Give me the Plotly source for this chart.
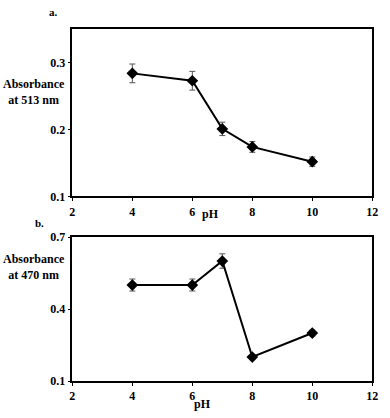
import plotly.graph_objects as go

ph = [4, 6, 7, 8, 10]
abs_513 = [0.284, 0.273, 0.201, 0.174, 0.152]
err_513 = [0.014, 0.014, 0.010, 0.008, 0.007]
abs_470 = [0.50, 0.50, 0.60, 0.20, 0.30]
err_470 = [0.025, 0.025, 0.030, 0.006, 0.012]
x_ticks = [2, 4, 6, 8, 10, 12]
y_ticks_a = [0.1, 0.2, 0.3]
y_ticks_b = [0.1, 0.4, 0.7]

W, H = 390, 418
FONT = "Liberation Serif, Times New Roman, serif"

fig = go.Figure()

def add_series(x, y, e, xa, ya):
    fig.add_trace(go.Scatter(
        x=x, y=y, xaxis=xa, yaxis=ya, mode="lines+markers",
        line=dict(color="black", width=2),
        marker=dict(symbol="diamond", size=9, color="black"),
        error_y=dict(type="data", array=e, color="#555555", thickness=1, width=3),
        showlegend=False))

add_series(ph, abs_513, err_513, "x", "y")
add_series(ph, abs_470, err_470, "x2", "y2")

def px_x(p):
    return p / W

def px_y(p):
    return 1 - p / H

xdom = [px_x(71), px_x(378)]
ax_common = dict(showline=True, mirror=True, linecolor="black", linewidth=1.5,
                 ticks="outside", ticklen=3, tickcolor="black", showgrid=False,
                 zeroline=False,
                 tickfont=dict(family=FONT, size=12, color="black", weight="bold"))

fig.update_layout(
    width=W, height=H, margin=dict(l=0, r=0, t=0, b=0),
    font=dict(family=FONT),
    paper_bgcolor="white", plot_bgcolor="white",
    xaxis=dict(domain=xdom, anchor="y", range=[2, 12], tickvals=x_ticks, **ax_common),
    yaxis=dict(domain=[px_y(196), px_y(23)], anchor="x", range=[0.1, 0.35],
               tickvals=y_ticks_a, tickformat=".1f", **ax_common),
    xaxis2=dict(domain=xdom, anchor="y2", range=[2, 12], tickvals=x_ticks, **ax_common),
    yaxis2=dict(domain=[px_y(387), px_y(238)], anchor="x2", range=[0.1, 0.7],
                tickvals=y_ticks_b, tickformat=".1f", **ax_common),
)

def ann(text, x, y, size=12):
    fig.add_annotation(text=text, x=px_x(x), y=px_y(y), xref="paper", yref="paper",
                       xanchor="center", yanchor="middle",
                       showarrow=False, align="center",
                       font=dict(family=FONT, size=size, color="black", weight="bold"))

ann("a.", 52, 5, size=11)
ann("b.", 37, 224, size=11)
ann("Absorbance<br>at 513 nm", 32, 88)
ann("Absorbance<br>at 470 nm", 32, 269)
ann("pH", 212, 214)
ann("pH", 204, 411)

fig.write_html("out.html", config={"responsive": False, "displayModeBar": False})

with open("out.html", encoding="utf-8") as f:
    html = f.read()
html = html.replace("<head>", "<head><style>html,body{margin:0;padding:0;overflow:hidden;}</style>", 1)
with open("out.html", "w", encoding="utf-8") as f:
    f.write(html)
